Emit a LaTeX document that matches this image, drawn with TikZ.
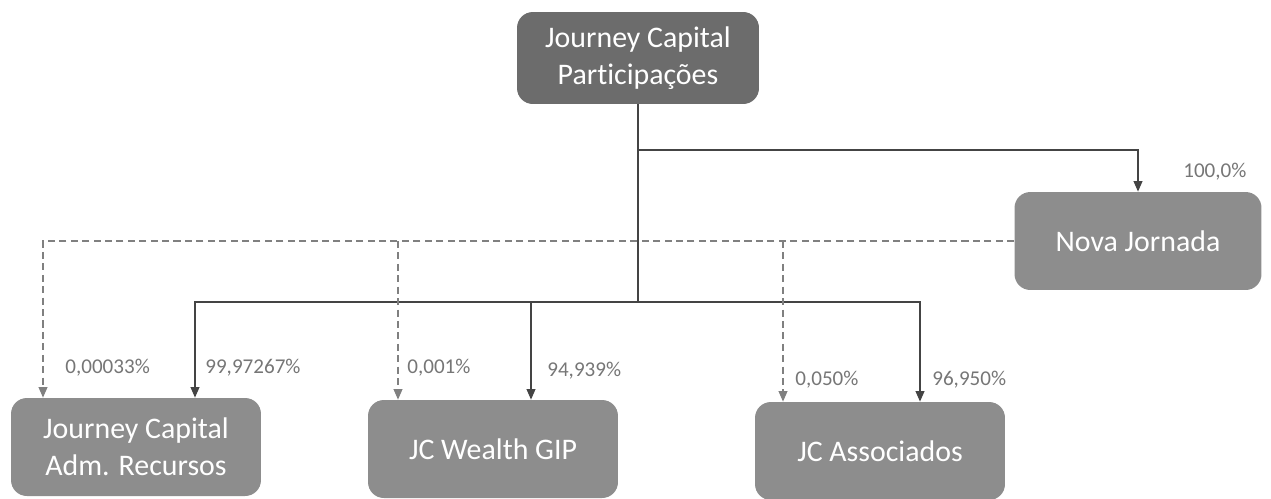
\documentclass[tikz,border=0pt]{standalone}
\usepackage{fontspec}
\setmainfont{Carlito}[Ligatures=NoCommon]
\usetikzlibrary{arrows.meta,calc}
\definecolor{boxdark}{RGB}{108,108,108}
\definecolor{boxgray}{RGB}{141,141,141}
\definecolor{pctgray}{RGB}{118,118,118}
\definecolor{linedark}{RGB}{68,68,68}
\definecolor{linegray}{RGB}{128,128,128}
\tikzset{
	company/.style = {rounded corners=9pt, fill=boxgray, text=white, align=center,
		font=\fontsize{17}{21}\selectfont, minimum width=5cm, minimum height=1.96cm, inner sep=0pt},
	pct/.style = {text=pctgray, font=\fontsize{12}{14}\selectfont, anchor=west, inner sep=0pt},
	owns/.style = {draw=linedark, line width=0.8pt},
	indirect/.style = {draw=linegray, line width=0.8pt, dash pattern=on 4pt off 2.5pt}
}

\begin{document}
\begin{tikzpicture}[x=0.02cm, y=-0.02cm, >={Triangle[length=6pt,width=5pt]}]
	\useasboundingbox (0,0) rectangle (1271,498);

	\node[company, fill=boxdark, minimum width=4.84cm, minimum height=1.84cm] (0) at (638,58) {Journey Capital\\Participações};
	\node[company] (1) at (136,447) {Journey Capital\\Adm. Recursos};
	\node[company] (2) at (493,449) {JC Wealth GIP};
	\node[company] (3) at (880,451) {JC Associados};
	\node[company, minimum width=4.94cm] (4) at (1138,241) {Nova Jornada};

	\coordinate (a) at (638,150);
	\coordinate (b) at (638,302);
	\coordinate (s1) at (195,0);
	\coordinate (s2) at (531,0);
	\coordinate (s3) at (920,0);
	\coordinate (d1) at (43,0);
	\coordinate (d2) at (398,0);
	\coordinate (d3) at (783,0);

	% direct holdings
	\draw [owns] (0) -- (b);
	\draw [owns, ->] (a) -| (4.north);
	\draw [owns, ->] (b) -| (s1 |- 1.north);
	\draw [owns, ->] (b) -| (s2 |- 2.north);
	\draw [owns, ->] (b) -| (s3 |- 3.north);

	% holdings of Nova Jornada
	\draw [indirect, ->] (4.west) -| (d1 |- 1.north);
	\draw [indirect, ->] (d2 |- 4.west) -- (d2 |- 2.north);
	\draw [indirect, ->] (d3 |- 4.west) -- (d3 |- 3.north);

	\node[pct] (p0) at (1183,172) {100,0\%};
	\node[pct] (p1) at (65,368) {0,00033\%};
	\node[pct] (p2) at (205,368) {99,97267\%};
	\node[pct] (p3) at (407,368) {0,001\%};
	\node[pct] (p4) at (547,371) {94,939\%};
	\node[pct] (p5) at (795,380) {0,050\%};
	\node[pct] (p6) at (932,380) {96,950\%};
\end{tikzpicture}
\end{document}
